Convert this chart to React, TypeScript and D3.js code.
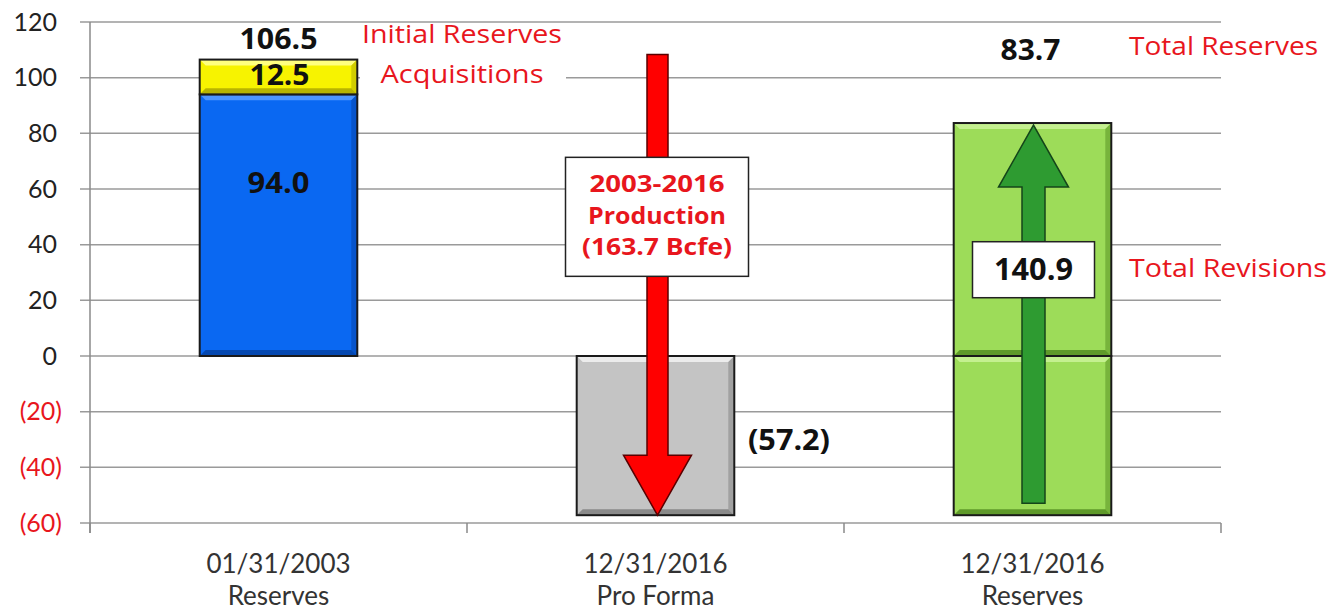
import React from "react";
import * as d3 from "d3";

const categoryDates = ["01/31/2003", "12/31/2016", "12/31/2016"];
const categorySubs = ["Reserves", "Pro Forma", "Reserves"];
const yTicks = [-60, -40, -20, 0, 20, 40, 60, 80, 100, 120];

// stacked segments
const segCategory = [0, 0, 1, 2, 2];
const segFrom = [0, 94.0, -57.2, -57.2, 0];
const segTo = [94.0, 106.5, 0, 0, 83.7];
const segKind = ["blue", "yellow", "gray", "green", "green"];

const initialReserves = 94.0;
const acquisitions = 12.5;
const initialTotal = 106.5;
const production = 163.7;
const proForma = -57.2;
const revisions = 140.9;
const totalReserves = 83.7;

const W = 1331;
const H = 610;
const FONT = "Lato, 'Open Sans', sans-serif";
const FONT2 = "'Open Sans', Lato, sans-serif";
const RED = "#e8161d";

const palette: Record<string, { base: string; light: string; dark: string }> = {
  blue: { base: "#0a68f2", light: "#4d95ff", dark: "#0548b0" },
  yellow: { base: "#f7f300", light: "#ffff80", dark: "#b8b400" },
  gray: { base: "#c4c4c4", light: "#ececec", dark: "#8a8a8a" },
  green: { base: "#9ddc59", light: "#c4f08f", dark: "#5f9a2a" },
};

function fmt(v: number) {
  return v < 0 ? `(${Math.abs(v)})` : `${v}`;
}

function BevelRect({ x, y, w, h, kind }: { x: number; y: number; w: number; h: number; kind: string }) {
  const c = palette[kind];
  const b = Math.min(6, h / 3);
  return (
    <g>
      <rect x={x} y={y} width={w} height={h} fill={c.base} />
      <polygon points={`${x},${y} ${x + w},${y} ${x + w - b},${y + b} ${x + b},${y + b}`} fill={c.light} />
      <polygon points={`${x + w},${y} ${x + w},${y + h} ${x + w - b},${y + h - b} ${x + w - b},${y + b}`} fill={c.dark} opacity={0.6} />
      <polygon points={`${x},${y + h} ${x + w},${y + h} ${x + w - b},${y + h - b} ${x + b},${y + h - b}`} fill={c.dark} />
      <rect x={x} y={y} width={w} height={h} fill="none" stroke="#1a1a1a" strokeWidth={2} />
    </g>
  );
}

function arrowPath(cx: number, yTail: number, yTip: number, shaftW: number, headW: number, headL: number) {
  const dir = yTip > yTail ? 1 : -1;
  const yBase = yTip - dir * headL;
  const p = d3.path();
  p.moveTo(cx - shaftW / 2, yTail);
  p.lineTo(cx + shaftW / 2, yTail);
  p.lineTo(cx + shaftW / 2, yBase);
  p.lineTo(cx + headW / 2, yBase);
  p.lineTo(cx, yTip);
  p.lineTo(cx - headW / 2, yBase);
  p.lineTo(cx - shaftW / 2, yBase);
  p.closePath();
  return p.toString();
}

export default function App() {
  const x = d3.scaleBand<number>().domain([0, 1, 2]).range([90, 1221]).paddingInner(0).paddingOuter(0);
  const y = d3.scaleLinear().domain([-60, 120]).range([523, 22]);
  const barW = x.bandwidth() * 0.418;
  const cx = (i: number) => (x(i) as number) + x.bandwidth() / 2;

  const boundaries = [0, 1, 2].map((i) => x(i) as number).concat([1221]);
  const stretch = { lengthAdjust: "spacingAndGlyphs" as const };

  return (
    <svg width={W} height={H} style={{ position: "absolute", left: 0, top: 0, background: "#fff" }} fontFamily={FONT}>
      {/* gridlines */}
      {yTicks.map((t) => (
        <line key={t} x1={80} x2={1221} y1={y(t)} y2={y(t)} stroke="#9a9a9a" strokeWidth={1.5} />
      ))}
      {/* axes */}
      <line x1={90} x2={90} y1={y(120)} y2={y(-60) + 10} stroke="#8a8a8a" strokeWidth={1.5} />
      {boundaries.map((b, i) => (
        <line key={i} x1={b} x2={b} y1={y(-60)} y2={y(-60) + 10} stroke="#8a8a8a" strokeWidth={1.5} />
      ))}
      {/* y tick labels */}
      {yTicks.map((t) => (
        <text key={t} x={t < 0 ? 62 : 57} y={y(t)} dy="0.35em" textAnchor="end" fontSize={25} fill={t < 0 ? RED : "#222"}>
          {fmt(t)}
        </text>
      ))}
      {/* x labels */}
      {categoryDates.map((d, i) => (
        <g key={i}>
          <text x={cx(i)} y={573} textAnchor="middle" fontSize={26} fill="#333">{d}</text>
          <text x={cx(i)} y={605} textAnchor="middle" fontSize={26} fill="#333">{categorySubs[i]}</text>
        </g>
      ))}
      {/* white background behind side labels */}
      <rect x={360} y={25} width={206} height={68} fill="#fff" />
      {/* bars */}
      {segFrom.map((f, i) => {
        const t = segTo[i];
        const top = y(Math.max(f, t));
        const bot = y(Math.min(f, t));
        return (
          <BevelRect key={i} x={cx(segCategory[i]) - barW / 2} y={top} w={barW} h={bot - top} kind={segKind[i]} />
        );
      })}
      {/* red production arrow */}
      <path
        d={arrowPath(cx(1) + 2, y(initialTotal) - 5, y(initialTotal - production), 21, 68, 60)}
        fill="#ff0000"
        stroke="#5a0000"
        strokeWidth={1.5}
      />
      {/* green revisions arrow */}
      <path
        d={arrowPath(cx(2) + 1, y(proForma) - 12, y(proForma + revisions) + 2, 23, 70, 62)}
        fill="#2e9b31"
        stroke="#14451a"
        strokeWidth={1.5}
      />
      {/* production box */}
      <rect x={cx(1) + 1.5 - 91.5} y={y(50) - 59.5} width={183} height={119} fill="#fff" stroke="#222" strokeWidth={1.5} />
      <g fontFamily={FONT2} textAnchor="middle" fontSize={23} fontWeight="bold" fill={RED}>
        <text x={cx(1) + 1.5} y={192} textLength={135} {...stretch}>2003-2016</text>
        <text x={cx(1) + 1.5} y={223.5} textLength={138} {...stretch}>Production</text>
        <text x={cx(1) + 1.5} y={255} textLength={150} {...stretch}>({production} Bcfe)</text>
      </g>
      {/* revisions box */}
      <rect x={cx(2) + 1 - 61} y={y(31) - 28} width={122} height={56} fill="#fff" stroke="#222" strokeWidth={1.5} />
      <text fontFamily={FONT2} x={cx(2) + 1} y={280} textAnchor="middle" fontSize={30} fontWeight="bold" fill="#111" textLength={79} {...stretch}>{revisions.toFixed(1)}</text>
      {/* value labels */}
      <g fontFamily={FONT2} fontSize={29} fontWeight="bold" fill="#111" textAnchor="middle">
        <text x={cx(0)} y={49} textLength={78} {...stretch}>{initialTotal.toFixed(1)}</text>
        <text x={cx(0) + 1} y={85} textLength={60} {...stretch}>{acquisitions.toFixed(1)}</text>
        <text x={cx(0)} y={193} textLength={62} {...stretch}>{initialReserves.toFixed(1)}</text>
        <text x={789} y={450} textLength={82} {...stretch}>{fmt(proForma)}</text>
        <text x={cx(2) - 2} y={60} textLength={60} {...stretch}>{totalReserves.toFixed(1)}</text>
      </g>
      {/* red annotations */}
      <g fontFamily={FONT2} fontSize={25} fill={RED}>
        <text x={462} y={43} textAnchor="middle" textLength={200} {...stretch}>Initial Reserves</text>
        <text x={462} y={83} textAnchor="middle" textLength={163} {...stretch}>Acquisitions</text>
        <text x={1129} y={55} textLength={189} {...stretch}>Total Reserves</text>
        <text x={1129} y={277} textLength={198} {...stretch}>Total Revisions</text>
      </g>
    </svg>
  );
}
